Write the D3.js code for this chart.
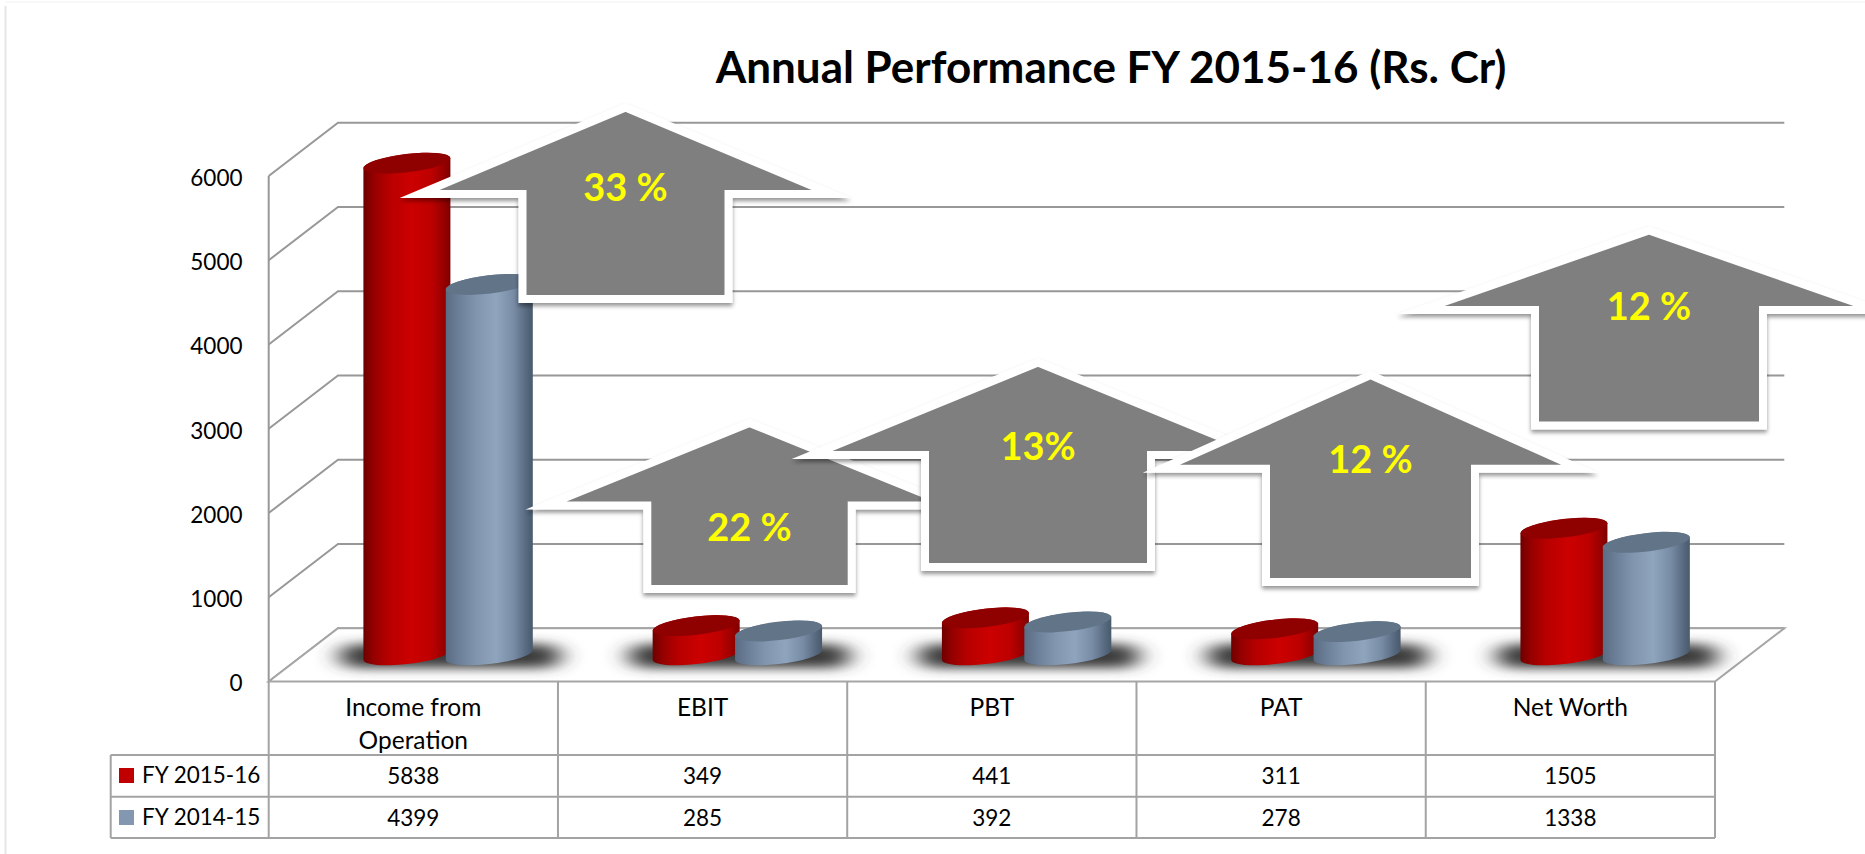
<!DOCTYPE html>
<html><head><meta charset="utf-8">
<script src="https://cdnjs.cloudflare.com/ajax/libs/d3/7.8.5/d3.min.js"></script>
<style>html,body{margin:0;padding:0;background:#fff}svg{display:block;font-family:Lato,sans-serif}</style>
</head><body><svg id="c" width="1865" height="854"></svg>
<script>
const categories = ["Income from|Operation","EBIT","PBT","PAT","Net Worth"];
const seriesNames = ["FY 2015-16","FY 2014-15"];
const fy1516 = [5838,349,441,311,1505];
const fy1415 = [4399,285,392,278,1338];
const yTicks = [0,1000,2000,3000,4000,5000,6000];
const growthLabels = ["33 %","22 %","13%","12 %","12 %"];
const seriesValues = [fy1516,fy1415];

// layout (annotation arrows: apex x/y, wing y, half-wing, half-stem, bottom y, text baseline)
const arrowLayout = [
 {cx:625.5,top:107.5,wing:194,hw:206,hs:103,bot:299,base:200.5},
 {cx:749.5,top:423,wing:505.5,hw:203.5,hs:102.2,bot:589,base:541},
 {cx:1038,top:362.5,wing:455,hw:226,hs:113,bot:567,base:459.5},
 {cx:1370.5,top:375,wing:468.7,hw:209,hs:104.5,bot:582,base:472.5},
 {cx:1649,top:230.5,wing:310,hw:228,hs:114,bot:425.5,base:319.5}
];
const svg = d3.select("#c");
const L=268.7,R=1715,Y0=681.5,Y6=176,DX=69.3,DY=-53.2;
const y = d3.scaleLinear().domain([0,6000]).range([Y0,Y6]);
const x0 = d3.scaleBand().domain(categories).range([L,R]);
const x1 = d3.scaleBand().domain(seriesNames).range([97,261.8]);
const defs = svg.append("defs");
function grad(id,stops){
  const g=defs.append("linearGradient").attr("id",id).attr("x1",0).attr("x2",1).attr("y1",0).attr("y2",0);
  stops.forEach(s=>g.append("stop").attr("offset",s[0]).attr("stop-color",s[1]));
}
grad("g0",[[0,"#6e0000"],[.12,"#960000"],[.3,"#b80000"],[.55,"#cc0000"],[.78,"#bd0000"],[.93,"#950000"],[1,"#7c0000"]]);
grad("g1",[[0,"#5a6c83"],[.15,"#6c7f98"],[.35,"#8295ae"],[.58,"#8fa4bd"],[.78,"#788ca5"],[.93,"#56687e"],[1,"#495a6d"]]);
const topFill=["#8f0000","#627488"], swatch=["#c00000","#8497b0"];
defs.append("filter").attr("id","blurS").attr("x","-30%").attr("y","-120%").attr("width","160%").attr("height","340%")
  .append("feGaussianBlur").attr("stdDeviation","12 5.5");
const ds=defs.append("filter").attr("id","arrowS").attr("x","-10%").attr("y","-10%").attr("width","120%").attr("height","125%");
ds.append("feDropShadow").attr("dx",0).attr("dy",3).attr("stdDeviation",2).attr("flood-color","#000").attr("flood-opacity",.42);

// page edge
svg.append("line").attr("x1",5.5).attr("x2",5.5).attr("y1",6).attr("y2",854).attr("stroke","#e6e6e6").attr("stroke-width",2);
svg.append("line").attr("x1",6).attr("x2",1865).attr("y1",2).attr("y2",2).attr("stroke","#f8f8f8").attr("stroke-width",2);

const gridC="#989898";
// walls
svg.append("g").selectAll("path").data(yTicks).join("path")
  .attr("fill","none").attr("stroke",gridC).attr("stroke-width",2)
  .attr("d",t=>`M${L},${y(t)}L${L+DX},${y(t)+DY}H${R+DX}`);
svg.append("line").attr("x1",L).attr("x2",L).attr("y1",Y6).attr("y2",Y0).attr("stroke",gridC).attr("stroke-width",2);
// floor
svg.append("path").attr("fill","#fff").attr("stroke","#a6a6a6").attr("stroke-width",2)
  .attr("d",`M${L},${Y0}L${L+DX},${Y0+DY}H${R+DX}L${R},${Y0}Z`);

// y axis
const axis = svg.append("g").attr("transform",`translate(242.5,0)`)
  .call(d3.axisLeft(y).tickValues(yTicks).tickSize(0).tickPadding(0).tickFormat(d3.format("d")));
axis.select(".domain").remove();
axis.selectAll("text").attr("font-family","Lato,sans-serif").attr("font-size",22.5).attr("fill","#000").attr("dy","0.42em");

// title
svg.append("text").attr("x",1111).attr("y",82.5).attr("text-anchor","middle")
  .attr("font-size",44).attr("font-weight",700).attr("fill","#000")
  .text("Annual Performance FY 2015-16 (Rs. Cr)");

// cylinders
const a=43.8,b=9.2,rot=-6.8,xe=43.5,dyE=5,depthShift=-26.5;
const barBase=y(0)+depthShift;
const groups=svg.append("g").selectAll("g").data(categories).join("g")
  .attr("transform",c=>`translate(${x0(c)},0)`);
groups.append("rect").attr("x",179.3-108).attr("y",644).attr("width",220).attr("height",24).attr("rx",14).attr("ry",12)
  .attr("fill","#3a3a3a").attr("filter","url(#blurS)");
seriesNames.forEach((s,si)=>{
  const cx=x1(s)+x1.bandwidth()/2;
  const vals=seriesValues[si];
  groups.append("path").attr("fill",`url(#g${si})`)
    .attr("d",(c,i)=>{const yt=y(vals[i])+depthShift;
      return `M${cx-xe},${yt+dyE}V${barBase+dyE}A${a},${b},${rot},0,0,${cx+xe},${barBase-dyE}V${yt-dyE}A${a},${b},${rot},0,0,${cx-xe},${yt+dyE}Z`;});
  groups.append("ellipse").attr("fill",topFill[si]).attr("rx",a).attr("ry",b)
    .attr("transform",(c,i)=>`translate(${cx},${y(vals[i])+depthShift}) rotate(${rot})`);
});

// data table
const rowY=[Y0,755,796.7,838], tblC="#a3a3a3", labelX=110.7;
const tbl=svg.append("g").attr("stroke",tblC).attr("stroke-width",2).attr("fill","none");
const edges=[...categories.map(c=>x0(c)),R];
tbl.selectAll("line.v").data(edges).join("line").attr("class","v")
  .attr("x1",d=>d).attr("x2",d=>d).attr("y1",Y0).attr("y2",rowY[3]);
tbl.selectAll("line.h").data(rowY.slice(1)).join("line").attr("class","h")
  .attr("x1",labelX).attr("x2",R).attr("y1",d=>d).attr("y2",d=>d);
tbl.append("line").attr("x1",labelX).attr("x2",labelX).attr("y1",rowY[1]).attr("y2",rowY[3]);

const cellFont=22.5;
const tx=svg.append("g").attr("font-size",cellFont).attr("fill","#000").attr("text-anchor","middle");
categories.forEach(c=>{
  c.split("|").forEach((ln,i)=>tx.append("text").attr("x",x0(c)+x0.bandwidth()/2).attr("y",716+i*32.5).attr("font-size",24.5).text(ln));
});
seriesNames.forEach((s,si)=>{
  const by=[783.5,825.7][si];
  tx.selectAll(null).data(seriesValues[si]).join("text")
    .attr("x",(d,i)=>x0(categories[i])+x0.bandwidth()/2).attr("y",by).text(d=>d);
  svg.append("rect").attr("x",119).attr("y",[768,810][si]).attr("width",15).attr("height",15).attr("fill",swatch[si]);
  svg.append("text").attr("x",142).attr("y",by-0.7).attr("font-size",cellFont).attr("fill","#000").text(s);
});

// growth arrows
const arrows=svg.append("g").selectAll("g").data(arrowLayout).join("g");
arrows.append("path").attr("fill","#7f7f7f").attr("stroke","#fff").attr("stroke-width",8)
  .attr("stroke-linejoin","miter").attr("stroke-miterlimit",30).attr("filter","url(#arrowS)")
  .attr("d",d=>`M${d.cx},${d.top}L${d.cx+d.hw},${d.wing}H${d.cx+d.hs}V${d.bot}H${d.cx-d.hs}V${d.wing}H${d.cx-d.hw}Z`);
arrows.append("text").attr("x",d=>d.cx).attr("y",d=>d.base).attr("text-anchor","middle")
  .attr("font-size",38).attr("font-weight",700).attr("fill","#ffff00")
  .text((d,i)=>growthLabels[i]);
</script></body></html>
